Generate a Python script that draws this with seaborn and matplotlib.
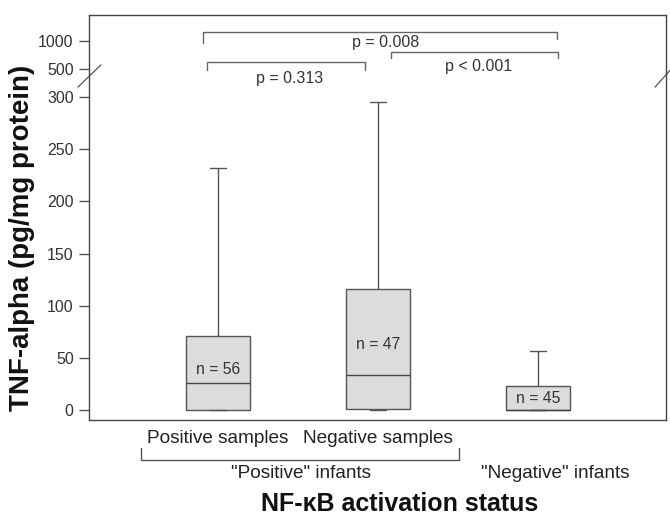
import numpy as np
import pandas as pd
import matplotlib
matplotlib.use("Agg")
import matplotlib.pyplot as plt
import seaborn as sns

# ---------------- data ----------------
groups = ["Positive samples", "Negative samples", "Negative infants"]
tick_labels = ["Positive samples", "Negative samples", ""]
# five-number summaries: min, q1, median, q3, max
pos_samples = [0, 0, 26, 71, 232]
neg_samples = [0, 1, 33.5, 116, 295]
neg_infants = [0, 0, 0, 23, 56.5]
n_labels = ["n = 56", "n = 47", "n = 45"]
n_label_y = [39, 63, 11.5]
yticks = [0, 50, 100, 150, 200, 250, 300, 500, 1000]
ytick_labels = ["0", "50", "100", "150", "200", "250", "300", "500", "1000"]
# p-value comparisons: (left group, right group, p text)
comparisons = [(0, 1, "p = 0.313"), (1, 2, "p < 0.001"), (0, 2, "p = 0.008")]
group_labels = ['"Positive" infants', '"Negative" infants']

df = pd.DataFrame({
    "group": np.repeat(groups, 5),
    "value": pos_samples + neg_samples + neg_infants,
})

# broken (compressed) upper part of the y axis
_y = [-1000, 0, 300, 500, 1000, 5000]
_t = [-1000, 0, 300, 326.8, 353.7, 353.7 + 4000 * 26.9 / 500]


def fwd(v):
    return np.interp(v, _y, _t)


def inv(t):
    return np.interp(t, _t, _y)


sns.set_style("white")
plt.rcParams["font.family"] = ["Liberation Sans", "DejaVu Sans"]

fig = plt.figure(figsize=(6.7, 5.17), dpi=100)
ax = fig.add_axes([0.1328, 0.1876, 0.994 - 0.1328, 0.971 - 0.1876])

edge = "#555555"
sns.boxplot(data=df, x="group", y="value", order=groups, color="#dcdcdc",
            linecolor=edge, linewidth=1.0, width=0.405, whis=(0, 100),
            fliersize=0, saturation=1, capwidths=0.1, ax=ax,
            medianprops=dict(color="#444444", linewidth=1.0))

ax.set_yscale("function", functions=(fwd, inv))
ax.set_ylim(-9.6, 1464)
ax.set_xlim(-0.806, 2.8)

ax.set_yticks(yticks)
ax.set_yticklabels(ytick_labels)
ax.minorticks_off()
ax.set_xticks(range(len(groups)))
ax.set_xticklabels(tick_labels)

ax.tick_params(axis="y", direction="out", length=7, width=1, color=edge,
               labelsize=11.5, labelcolor="#333333", pad=4, left=True)
ax.tick_params(axis="x", length=0, labelsize=13.7, labelcolor="#222222", pad=7)

for s in ax.spines.values():
    s.set_color("#444444")
    s.set_linewidth(1.0)

ax.set_ylabel("TNF-alpha (pg/mg protein)", fontsize=20, fontweight="bold",
              color="#111111")
ax.yaxis.set_label_coords(-0.094, 0.449)
ax.set_xlabel("NF-\u03baB activation status", fontsize=18, fontweight="bold",
              color="#111111")
ax.xaxis.set_label_coords(0.539, -0.178)

# n labels inside boxes
for i, (lab, yv) in enumerate(zip(n_labels, n_label_y)):
    ax.text(i, yv, lab, ha="center", va="center", fontsize=11.3,
            color="#333333")

# p-value brackets
bracket = dict(color="#666666", linewidth=1.0)
br_geom = {
    (0, 1): ((-0.069, 0.919), 626, (490, 490), (0.45, 436)),
    (1, 2): ((1.081, 2.125), 803, (697, 697), (1.63, 540)),
    (0, 2): ((-0.094, 2.119), 1160, (965, 1035), (1.05, 965)),
}
for a, b, ptxt in comparisons:
    (x0, x1), ytop, (yl, yr), (tx, ty) = br_geom[(a, b)]
    ax.plot([x0, x0, x1, x1], [yl, ytop, ytop, yr], **bracket)
    ax.text(tx, ty, ptxt, ha="center", va="center", fontsize=11.5,
            color="#333333")

# axis break marks
for xs in ([-0.019, 0.0208], [0.981, 1.0156]):
    ax.plot(xs, [0.822, 0.877], transform=ax.transAxes, color="#555555",
            linewidth=0.9, clip_on=False)

# group bracket under x tick labels
tr = ax.get_xaxis_transform()
ax.plot([-0.48, -0.48, 1.506, 1.506], [-0.069, -0.0988, -0.0988, -0.069],
        transform=tr, color="#555555", linewidth=1.0, clip_on=False)
ax.text(0.52, -0.133, group_labels[0], transform=tr, ha="center", va="center",
        fontsize=13.7, color="#222222")
ax.text(2.106, -0.133, group_labels[1], transform=tr, ha="center",
        va="center", fontsize=13.7, color="#222222")

fig.savefig("out.png", dpi=100)
